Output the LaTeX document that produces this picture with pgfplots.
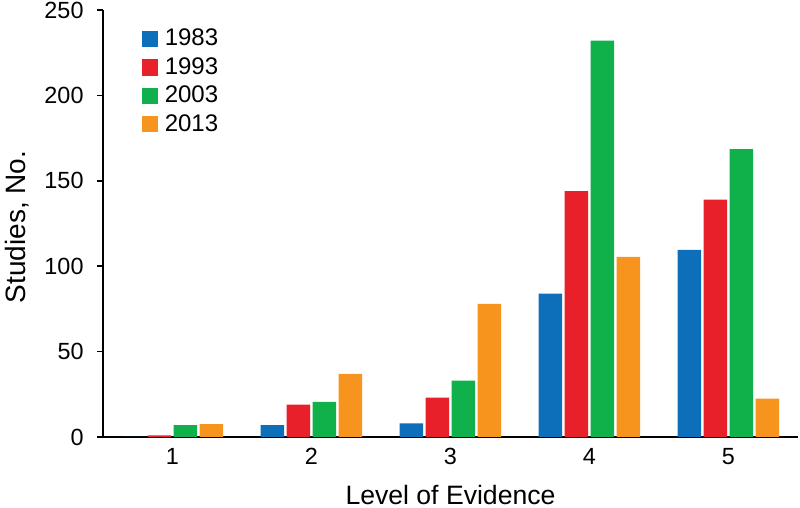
\documentclass[border=0pt]{standalone}
\usepackage{pgfplots}
\pgfplotsset{compat=1.18}
\usepackage{fontspec}
\setmainfont{Liberation Sans}
\definecolor{cblue}{HTML}{0D6EBA}
\definecolor{cred}{HTML}{E8202A}
\definecolor{cgreen}{HTML}{10B04A}
\definecolor{corange}{HTML}{F7941E}
\begin{document}
\begin{tikzpicture}
\begin{axis}[
  scale only axis,
  width=347.5pt, height=213.5pt,
  xmin=0.5, xmax=5.5, ymin=0, ymax=250,
  axis lines*=left,
  axis line style={line width=0.8pt},
  ytick={0,50,100,150,200,250},
  xtick={1,2,3,4,5},
  x tick style={draw=none},
  y tick style={line width=0.8pt, black},
  tick align=outside,
  major tick length=3pt,
  tick label style={font=\fontsize{11.7}{13.5}\selectfont},
  yticklabel style={xshift=-3.2pt},
  xticklabel style={yshift=1pt},
  /pgf/number format/assume math mode=true,
  ylabel={Studies, No.},
  xlabel={Level of Evidence},
  label style={inner sep=0pt},
  ylabel style={font=\fontsize{14}{16}\selectfont, at={(axis description cs:-0.141,0.492)}, anchor=north},
  xlabel style={font=\fontsize{13.3}{15}\selectfont, at={(axis description cs:0.5,-0.157)}, anchor=base},
  ybar=1.25pt,
  bar width=11.75pt,
  enlargelimits=false,
  legend style={draw=none, fill=none, at={(axis description cs:0,1)}, xshift=19.5pt, yshift=-7.4pt, anchor=north west,
    font=\fontsize{12}{14}\selectfont, row sep=0.3pt, column sep=1.2pt, inner sep=0pt},
  legend cell align=left,
  legend image code/.code={\fill[#1] (0pt,-4.1pt) rectangle (8pt,4.1pt);},
  clip=false,
]
\addplot[fill=cblue, draw=none] coordinates {(1,0) (2,7) (3,8) (4,84) (5,109.5)};
\addplot[fill=cred, draw=none] coordinates {(1,1) (2,19) (3,23) (4,144) (5,139)};
\addplot[fill=cgreen, draw=none] coordinates {(1,7) (2,20.5) (3,33) (4,232) (5,168.5)};
\addplot[fill=corange, draw=none] coordinates {(1,7.5) (2,37) (3,78) (4,105.5) (5,22.5)};
\legend{1983,1993,2003,2013}
\end{axis}
\pgfresetboundingbox
\useasboundingbox (-51.5pt,-35.5pt) rectangle (348.5pt,218.5pt);
\end{tikzpicture}
\end{document}
